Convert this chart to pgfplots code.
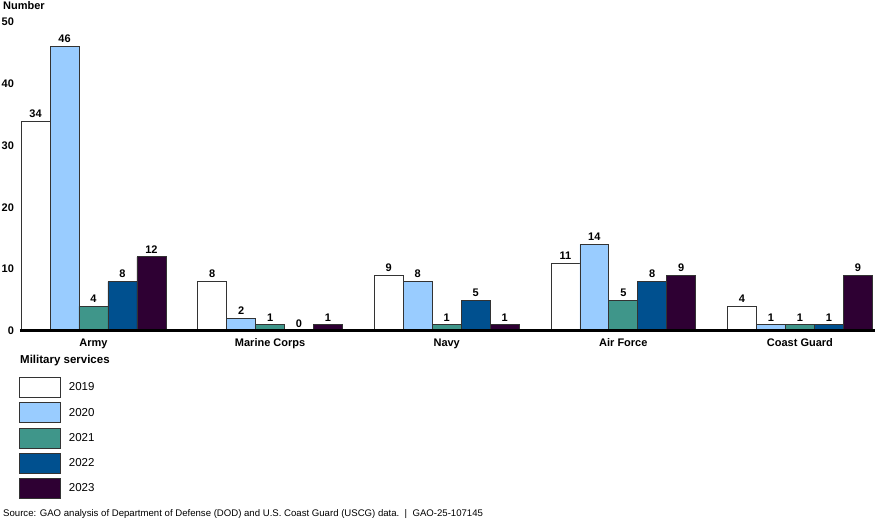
\documentclass[border=0pt]{standalone}
\usepackage{pgfplots}
\usepackage{pgfplotstable}
\pgfplotsset{compat=1.18}
\usepackage{fontspec}
\setmainfont{Liberation Sans}

\definecolor{c2020}{HTML}{99CCFF}
\definecolor{c2021}{HTML}{3F968A}
\definecolor{c2022}{HTML}{00508F}
\definecolor{c2023}{HTML}{2E0033}
\definecolor{edge}{HTML}{333333}

% number of cases by service and year
\pgfplotstableread{
x y2019 y2020 y2021 y2022 y2023
0 34 46 4 8 12
1 8 2 1 0 1
2 9 8 1 5 1
3 11 14 5 8 9
4 4 1 1 1 9
}\cases

\begin{document}
\begin{tikzpicture}
\begin{axis}[
    scale only axis,
    width=855pt, height=309pt,
    ybar=0pt, bar width=0.164,
    xmin=-0.416, xmax=4.425, ymin=0, ymax=50,
    xtick={0,1,2,3,4},
    xticklabels={Army, Marine Corps, Navy, Air Force, Coast Guard},
    ytick={0,10,...,50},
    axis x line=bottom, axis y line=left,
    axis on top,
    every outer x axis line/.append style={line width=3pt, -, black},
    y axis line style={draw=none},
    major tick length=0pt,
    /pgf/number format/assume math mode=true,
    tick label style={font=\bfseries\fontsize{11}{13}\selectfont},
    yticklabel style={xshift=-2.5pt},
    xticklabel style={yshift=-4pt},
    nodes near coords,
    every node near coord/.append style={font=\bfseries\fontsize{11}{13}\selectfont},
    clip=false,
    every axis plot/.append style={draw=edge, line width=0.7pt},
    legend style={at={(rel axis cs:0,0)}, anchor=north west, xshift=-1pt, yshift=-46pt,
        draw=none, fill=none, inner sep=0pt, row sep=4.5pt,
        font=\fontsize{11.5}{13}\selectfont, cells={anchor=west}},
    legend image code/.code={
        \draw[#1, draw=edge, line width=0.7pt] (0pt,-10pt) rectangle (41pt,10pt);
        \path (47pt,0pt);},
]
\addplot[fill=white] table[x=x, y=y2019] {\cases};
\addplot[fill=c2020] table[x=x, y=y2020] {\cases};
\addplot[fill=c2021] table[x=x, y=y2021] {\cases};
\addplot[fill=c2022] table[x=x, y=y2022] {\cases};
\addplot[fill=c2023] table[x=x, y=y2023] {\cases};
\legend{2019,2020,2021,2022,2023}
\node[anchor=base west, inner sep=0pt, font=\bfseries\fontsize{11}{13}\selectfont]
    at ([xshift=-17pt, yshift=321.5pt]rel axis cs:0,0) {Number};
\node[anchor=base west, inner sep=0pt, font=\bfseries\fontsize{11.5}{13}\selectfont]
    at ([xshift=0pt, yshift=-33pt]rel axis cs:0,0) {Military services};
\node[anchor=base west, inner sep=0pt, font=\fontsize{9.6}{11}\selectfont]
    at ([xshift=-17pt, yshift=-185pt]rel axis cs:0,0)
    {Source: GAO analysis of Department of Defense (DOD) and U.S. Coast Guard (USCG) data.\ \ |\ \ GAO-25-107145};
\end{axis}
\pgfresetboundingbox
\useasboundingbox (-20pt,-190pt) rectangle (868pt,331pt);
\end{tikzpicture}
\end{document}
